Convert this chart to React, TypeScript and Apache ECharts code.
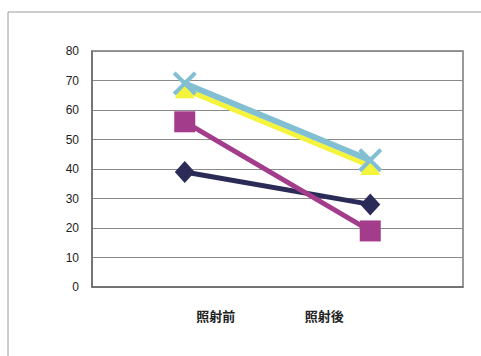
import React, { useEffect, useRef } from "react";
import * as echarts from "echarts";

const categories = ["照射前", "照射後"];
const seriesNavy = [39, 28];
const seriesMagenta = [56, 19];
const seriesYellow = [67, 41];
const seriesBlue = [69, 43];
const yTicks = { min: 0, max: 80, interval: 10 };

const crossPath =
  "path://M0,1.2L1.2,0L5,3.8L8.8,0L10,1.2L6.2,5L10,8.8L8.8,10L5,6.2L1.2,10L0,8.8L3.8,5Z";

export default function App() {
  const ref = useRef<HTMLDivElement>(null);
  useEffect(() => {
    if (!ref.current) return;
    const chart = echarts.init(ref.current, undefined, { renderer: "svg" });
    chart.setOption({
      animation: false,
      backgroundColor: "#ffffff",
      graphic: [
        {
          type: "polyline",
          shape: { points: [[8, 356], [8, 12], [481, 12]] },
          style: { stroke: "#9a9a9a", lineWidth: 1, fill: "none" },
          silent: true,
        },
      ],
      grid: {
        left: 92,
        right: 18,
        top: 51,
        bottom: 69,
        show: true,
        borderColor: "#7a7a7a",
        borderWidth: 1.5,
        backgroundColor: "transparent",
      },
      xAxis: {
        type: "category",
        data: categories,
        boundaryGap: true,
        axisLine: { show: true, lineStyle: { color: "#6a6a6a", width: 1.5 } },
        axisTick: { show: false },
        axisLabel: {
          margin: 22,
          formatter: (v: string, i: number) => (i === 0 ? `{a|${v}}` : `{b|${v}}`),
          rich: {
            a: {
              fontFamily: "Noto Sans CJK JP",
              fontSize: 13,
              fontWeight: "bold",
              color: "#222",
              padding: [0, 0, 0, 62],
            },
            b: {
              fontFamily: "Noto Sans CJK JP",
              fontSize: 13,
              fontWeight: "bold",
              color: "#222",
              padding: [0, 92, 0, 0],
            },
          },
        },
      },
      yAxis: {
        type: "value",
        min: yTicks.min,
        max: yTicks.max,
        interval: yTicks.interval,
        axisLine: { show: true, lineStyle: { color: "#6a6a6a", width: 1.5 } },
        axisTick: { show: false },
        axisLabel: {
          margin: 13,
          fontFamily: "Liberation Sans",
          fontSize: 12,
          color: "#222",
        },
        splitLine: { lineStyle: { color: "#8a8a8a", width: 1 } },
      },
      series: [
        {
          type: "line",
          data: seriesNavy,
          color: "#2b2b58",
          lineStyle: { width: 5, color: "#2b2b58" },
          symbol: "diamond",
          symbolSize: [20, 22],
          itemStyle: { color: "#2b2b58" },
        },
        {
          type: "line",
          data: seriesMagenta,
          lineStyle: { width: 5, color: "#a43c8c" },
          symbol: "rect",
          symbolSize: 21,
          itemStyle: { color: "#a43c8c" },
        },
        {
          type: "line",
          data: seriesYellow,
          lineStyle: { width: 5, color: "#f4f43c" },
          symbol: "triangle",
          symbolSize: [20, 18],
          itemStyle: { color: "#f4f43c" },
        },
        {
          type: "line",
          data: seriesBlue,
          lineStyle: { width: 6, color: "#82bfd3" },
          symbol: crossPath,
          symbolSize: 24,
          itemStyle: { color: "#82bfd3" },
        },
      ],
    });
    return () => chart.dispose();
  }, []);
  return (
    <div
      ref={ref}
      style={{ position: "fixed", left: 0, top: 0, width: 481, height: 356 }}
    />
  );
}
